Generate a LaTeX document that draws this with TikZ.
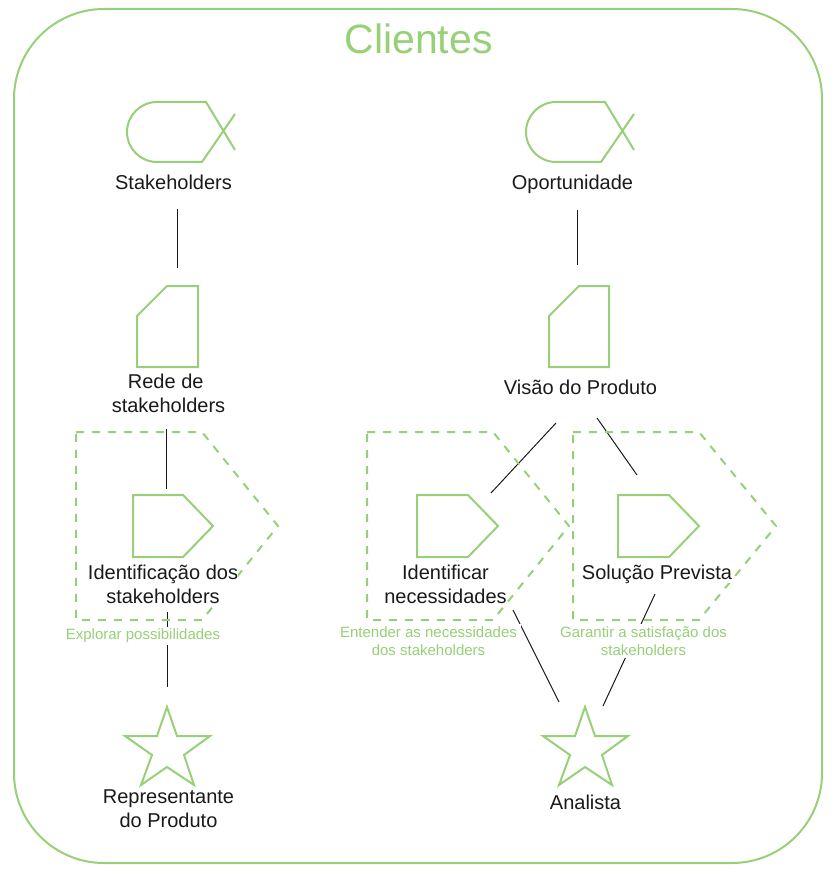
\documentclass[tikz,border=0pt]{standalone}
\usepackage{fontspec}
\setmainfont{Liberation Sans}
\usepackage{tikz}
\pgfdeclarelayer{back}
\pgfsetlayers{back,main}
\definecolor{leaf}{HTML}{97D077}
\definecolor{ink}{HTML}{1A1A1A}
\tikzset{
  shapeline/.style={draw=leaf,line width=2pt,line join=miter},
  stagebox/.style={draw=leaf,line width=2pt,dash pattern=on 8pt off 8pt,line join=round},
  frame/.style={draw=leaf,line width=2pt},
  link/.style={draw=ink,line width=1pt},
  anchorbox/.style={inner sep=0pt,outer sep=0pt,draw=none,minimum width=#1},
  mainlabel/.style={text=ink,font=\fontsize{20}{24}\selectfont,align=center,inner sep=0pt,fill=white},
  notelabel/.style={text=leaf,font=\fontsize{15}{18}\selectfont,align=center,inner xsep=4pt,inner ysep=2pt,fill=white},
  titlelabel/.style={text=leaf,font=\fontsize{41}{48}\selectfont,inner sep=0pt},
}
\begin{document}
\begin{tikzpicture}[x=1pt,y=-1pt]
\useasboundingbox (0,0) rectangle (833,877);
% invisible named boxes around the drawn shapes
\node[anchorbox=109pt,minimum height=60pt] (fishA) at (180.5,132) {};
\node[anchorbox=109pt,minimum height=60pt] (fishB) at (579.5,132) {};
\node[anchorbox=61pt,minimum height=81pt] (redeS) at (167.5,326.5) {};
\node[anchorbox=60pt,minimum height=81pt] (visaoS) at (579,326.5) {};
\node[anchorbox=80pt,minimum height=62pt] (tagA) at (173,526) {};
\node[anchorbox=81pt,minimum height=62pt] (tagB) at (457.5,526) {};
\node[anchorbox=81pt,minimum height=62pt] (tagC) at (658.5,526) {};
\node[anchorbox=89pt,minimum height=82pt] (starA) at (167.5,746) {};
\node[anchorbox=89pt,minimum height=82pt] (starB) at (585.5,746) {};
% labels
\node[titlelabel] (title) at (418.5,39) {Clientes};
\node[mainlabel] (lStake) at (173.5,182) {Stakeholders};
\node[mainlabel] (lOport) at (572.5,184) {Oportunidade};
\node[mainlabel] (lRede) at (168.5,393) {Rede de\ \hbox{}\\stakeholders};
\node[mainlabel] (lVisao) at (580.5,387) {Visão do Produto};
\node[mainlabel] (lIdent) at (163,584) {Identificação dos\\stakeholders};
\node[mainlabel] (lNeces) at (445.5,584) {Identificar\\necessidades};
\node[mainlabel] (lSolu) at (657,574) {Solução Prevista};
\node[notelabel] (nExpl) at (143,636) {Explorar possibilidades};
\node[notelabel] (nEnt) at (428.5,641) {Entender as necessidades\\dos stakeholders};
\node[notelabel] (nGar) at (643.5,641) {Garantir a satisfação dos\\stakeholders};
\node[mainlabel] (lRepr) at (168.5,809) {Representante\\do Produto};
\node[mainlabel] (lAnal) at (585.5,802) {Analista};
\begin{pgfonlayer}{back}
\draw[frame] (104,9) -- (732,9) arc[start angle=-90,end angle=0,radius=90] -- (822,773) arc[start angle=0,end angle=90,radius=90] -- (104,863) arc[start angle=90,end angle=180,radius=90] -- (14,99) arc[start angle=180,end angle=270,radius=90] -- cycle;
% connectors
\draw[link] ([shift={(3.5,27)}]lStake.center) -- ([shift={(9.5,-58.5)}]redeS.center);
\draw[link] ([shift={(4.5,26)}]lOport.center) -- ([shift={(-2,-61.5)}]visaoS.center);
\draw[link] ([shift={(-2.5,36)}]lRede.center) -- ([shift={(-7,-37)}]tagA.center);
\draw[link] ([shift={(4,28)}]lIdent.center) -- ([shift={(-0.5,-59)}]starA.center);
\draw[link] ([shift={(-24.5,36)}]lVisao.center) -- ([shift={(33.5,-33)}]tagB.center);
\draw[link] ([shift={(16.5,31)}]lVisao.center) -- ([shift={(-21.5,-51)}]tagC.center);
\draw[link] ([shift={(67.5,26)}]lNeces.center) -- ([shift={(-26.5,-44)}]starB.center);
\draw[link] ([shift={(-2,20)}]lSolu.center) -- ([shift={(17.5,-40)}]starB.center);
% dashed stages
\draw[stagebox] (76,432) -- (202,432) -- (278,526) -- (202,620) -- (76,620) -- cycle;
\draw[stagebox] (367,432) -- (493,432) -- (569,526) -- (493,620) -- (367,620) -- cycle;
\draw[stagebox] (573,432) -- (699,432) -- (776,526) -- (699,620) -- (573,620) -- cycle;
\end{pgfonlayer}
% solid symbols
\draw[shapeline] (235,150) -- (206,102) -- (157,102) arc[start angle=-90,end angle=-270,radius=30] -- (202,162) -- (235,114);
\draw[shapeline] (634,150) -- (605,102) -- (556,102) arc[start angle=-90,end angle=-270,radius=30] -- (601,162) -- (634,114);
\draw[shapeline] (167,286) -- (198,286) -- (198,367) -- (137,367) -- (137,316) -- cycle;
\draw[shapeline] (579,286) -- (609,286) -- (609,367) -- (549,367) -- (549,316) -- cycle;
\draw[shapeline] (133,495) -- (183,495) -- (213,526) -- (183,557) -- (133,557) -- cycle;
\draw[shapeline] (417,495) -- (468,495) -- (498,526) -- (468,557) -- (417,557) -- cycle;
\draw[shapeline] (618,495) -- (669,495) -- (699,526) -- (669,557) -- (618,557) -- cycle;
\draw[shapeline] (167,707) -- (177,736) -- (210,736) -- (184,755) -- (194,785) -- (167,767) -- (141,785) -- (152,755) -- (125,736) -- (157,736) -- cycle;
\draw[shapeline] (585,707) -- (595,736) -- (628,736) -- (602,755) -- (612,785) -- (585,767) -- (559,785) -- (570,755) -- (543,736) -- (575,736) -- cycle;
\end{tikzpicture}
\end{document}
